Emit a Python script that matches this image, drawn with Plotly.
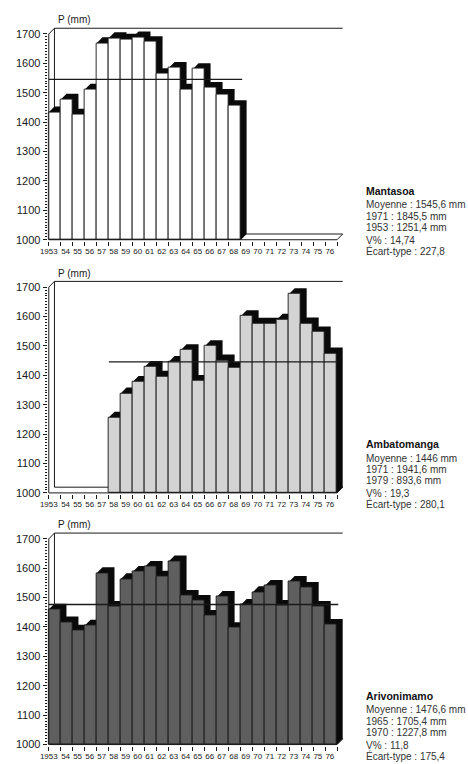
import plotly.graph_objects as go

# ---- data -------------------------------------------------------------
years = list(range(1953, 1977))
year_labels = ["1953"] + [f"{y % 100}" for y in years[1:]]

stations = ["Mantasoa", "Ambatomanga", "Arivonimamo"]

mantasoa = [1434, 1477, 1426, 1511, 1669, 1686, 1681, 1689, 1673, 1564,
            1585, 1511, 1581, 1517, 1493, 1455,
            None, None, None, None, None, None, None, None]
ambatomanga = [None, None, None, None, None,
               1257, 1339, 1378, 1429, 1396, 1446, 1486, 1382, 1500, 1451,
               1426, 1602, 1576, 1576, 1590, 1677, 1577, 1547, 1475]
arivonimamo = [1460, 1416, 1388, 1405, 1584, 1469, 1563, 1588, 1605, 1572,
               1624, 1506, 1489, 1438, 1503, 1397, 1476, 1519, 1540, 1472,
               1554, 1534, 1469, 1408]
series = [mantasoa, ambatomanga, arivonimamo]

means = [1545.6, 1446, 1476.6]

stat_lines = [
    ["Moyenne : 1545,6 mm", "1971 : 1845,5 mm", "1953 : 1251,4 mm",
     "V% : 14,74", "Écart-type : 227,8"],
    ["Moyenne : 1446 mm", "1971 : 1941,6 mm", "1979 : 893,6 mm",
     "V% : 19,3", "Écart-type : 280,1"],
    ["Moyenne : 1476,6 mm", "1965 : 1705,4 mm", "1970 : 1227,8 mm",
     "V% : 11,8", "Écart-type : 175,4"],
]

y_ticks = list(range(1000, 1701, 100))
y_minor = list(range(1000, 1701, 10))

# ---- styling / geometry ----------------------------------------------
W, H = 468, 764
fills = ["#ffffff", "#d3d3d3", "#5f5f5f"]
ink = "#1a1a1a"
DX, DY = 0.47, 19.5          # oblique depth of the 3-D bars
BASE = 1000
Y_LO, Y_HI = 995, 1732
X_LO, X_HI = -0.1, 24.6
BAR_PX = 12.22
X0_PX = 41.5
K_Y = 0.2955                 # pixels per mm
floor_px = [241.0, 495.5, 748.5]

# year labels sit a little left of each bar's centre; the first one
# (four digits) is pulled back onto the axis
label_pos = [0.0] + [i + 0.4 for i in range(1, len(years))]

def px_to_paper_x(p):
    return p / W

def px_to_paper_y(p):
    return 1 - p / H

fig = go.Figure()
layout = dict(
    width=W, height=H,
    margin=dict(l=0, r=0, t=0, b=0),
    paper_bgcolor="white", plot_bgcolor="rgba(0,0,0,0)",
    showlegend=False, barmode="overlay", bargap=0,
    font=dict(family="Liberation Sans, Arial, sans-serif", color=ink),
)
shapes = []
annotations = []

x_dom = [px_to_paper_x(X0_PX + X_LO * BAR_PX), px_to_paper_x(X0_PX + X_HI * BAR_PX)]
n = len(years)

for p, (vals, fy) in enumerate(zip(series, floor_px)):
    sfx = "" if p == 0 else str(p + 1)
    xa, ya = "x" + sfx, "y" + sfx
    top_px = fy - (Y_HI - BASE) * K_Y
    bot_px = fy + (BASE - Y_LO) * K_Y
    y_dom = [px_to_paper_y(bot_px), px_to_paper_y(top_px)]

    layout["xaxis" + sfx] = dict(
        domain=x_dom, range=[X_LO, X_HI], anchor=ya,
        showgrid=False, zeroline=False, showline=False,
        tickmode="array", tickvals=label_pos,
        ticktext=year_labels, ticks="outside", ticklen=2,
        tickcolor="rgba(0,0,0,0)", tickangle=0,
        tickfont=dict(family="Liberation Sans Narrow, Liberation Sans, sans-serif",
                      size=8, color=ink),
        minor=dict(tickmode="array", tickvals=list(range(n + 1)),
                   ticks="outside", ticklen=4, tickwidth=1, tickcolor=ink),
        fixedrange=True,
    )
    layout["yaxis" + sfx] = dict(
        domain=y_dom, range=[Y_LO, Y_HI], anchor=xa,
        showgrid=False, zeroline=False, showline=False,
        tickmode="array", tickvals=y_ticks, ticktext=[str(v) for v in y_ticks],
        ticks="outside", ticklen=4, tickwidth=1, tickcolor=ink,
        tickfont=dict(size=11, color=ink),
        minor=dict(tickmode="array", tickvals=y_minor, ticks="outside",
                   ticklen=2, tickwidth=0.8, tickcolor=ink),
        fixedrange=True,
    )

    def seg(x0, y0, x1, y1, layer="below", w=1):
        shapes.append(dict(type="line", xref=xa, yref=ya, x0=x0, y0=y0,
                           x1=x1, y1=y1, layer=layer,
                           line=dict(color=ink, width=w)))

    # back wall of the box
    seg(DX, 1700 + DY, n + DX, 1700 + DY)
    seg(DX, BASE + DY, DX, 1700 + DY)
    seg(DX, BASE + DY, n + DX, BASE + DY)

    # black silhouette (top + side faces) of each bar
    for i, v in enumerate(vals):
        if v is None:
            continue
        x0, x1 = i, i + 1
        path = (f"M {x0},{BASE} L {x0},{v} L {x0 + DX},{v + DY} "
                f"L {x1 + DX},{v + DY} L {x1 + DX},{BASE + DY} L {x1},{BASE} Z")
        shapes.append(dict(type="path", xref=xa, yref=ya, path=path,
                           fillcolor="#0a0a0a", layer="below",
                           line=dict(width=0)))

    # front faces of the bars
    xs = [i + 0.5 for i, v in enumerate(vals) if v is not None]
    hs = [v - BASE for v in vals if v is not None]
    fig.add_trace(go.Bar(
        x=xs, y=hs, base=BASE, width=1, xaxis=xa, yaxis=ya,
        marker=dict(color=fills[p], line=dict(color=ink, width=0.9)),
        hoverinfo="skip",
    ))

    # mean line across the years with data
    idx = [i for i, v in enumerate(vals) if v is not None]
    fig.add_trace(go.Scatter(
        x=[idx[0], idx[-1] + 1 + 0.1], y=[means[p], means[p]],
        mode="lines", line=dict(color=ink, width=1.3),
        xaxis=xa, yaxis=ya, hoverinfo="skip",
    ))

    # front edges of the box
    seg(0, BASE, 0, 1700, layer="above")
    seg(0, 1700, DX, 1700 + DY, layer="above")
    seg(0, BASE, n, BASE, layer="above")
    seg(n, BASE, n + DX, BASE + DY, layer="above")

    # axis title
    annotations.append(dict(
        text="P (mm)", xref="paper", yref="paper",
        x=px_to_paper_x(49), y=px_to_paper_y(fy - 221),
        xanchor="left", yanchor="middle", showarrow=False,
        font=dict(size=10, color=ink),
    ))

    # station summary block
    tx = px_to_paper_x(362)
    annotations.append(dict(
        text=f"<b>{stations[p]}</b>", xref="paper", yref="paper",
        x=tx, y=px_to_paper_y(fy - 49), xanchor="left", yanchor="middle",
        showarrow=False, font=dict(size=10.5, color="#111111"),
    ))
    offsets = [-35, -23.5, -12.5, 0.5, 11]
    for line, off in zip(stat_lines[p], offsets):
        annotations.append(dict(
            text=line, xref="paper", yref="paper",
            x=tx, y=px_to_paper_y(fy + off), xanchor="left", yanchor="middle",
            showarrow=False, font=dict(size=10, color="#333333"),
        ))

layout["shapes"] = shapes
layout["annotations"] = annotations
fig.update_layout(**layout)
fig.write_html("out.html")
